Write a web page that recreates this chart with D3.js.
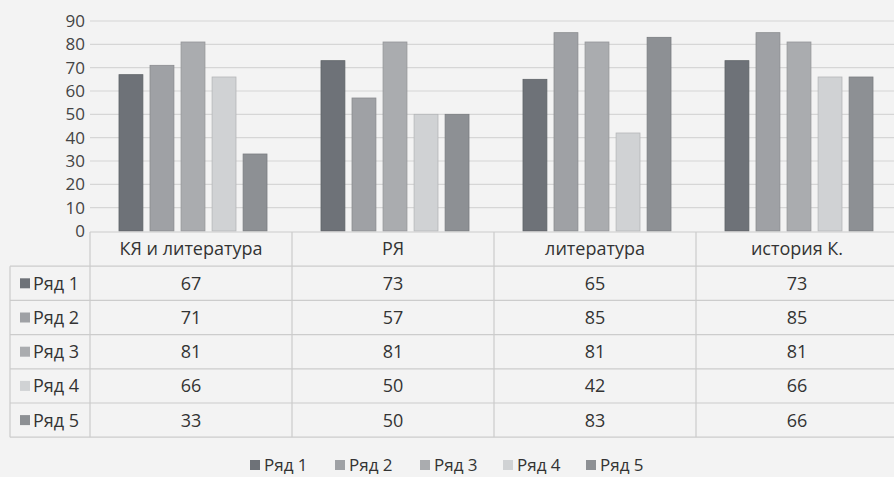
<!DOCTYPE html>
<html>
<head>
<meta charset="utf-8">
<script src="https://cdn.jsdelivr.net/npm/d3@7"></script>
<style>
  body { margin: 0; background: #f3f3f3; }
  svg { display: block; font-family: "Open Sans", "Noto Sans", sans-serif; }
</style>
</head>
<body>
<div id="chart"></div>
<script>
const categories = ["КЯ и литература", "РЯ", "литература", "история К."];
const seriesNames = ["Ряд 1", "Ряд 2", "Ряд 3", "Ряд 4", "Ряд 5"];
const ryad1 = [67, 73, 65, 73];
const ryad2 = [71, 57, 85, 85];
const ryad3 = [81, 81, 81, 81];
const ryad4 = [66, 50, 42, 66];
const ryad5 = [33, 50, 83, 66];
const yTicks = [0, 10, 20, 30, 40, 50, 60, 70, 80, 90];

const seriesValues = [ryad1, ryad2, ryad3, ryad4, ryad5];
const colors = ["#6e7278", "#9fa1a5", "#aaacaf", "#d0d2d4", "#8d9094"];

const W = 894, H = 477;
const plotLeft = 90, plotRight = 898, plotTop = 21, plotBottom = 231;
const rowH = 34.2;
const tableLeft = 10;

const svg = d3.select("#chart").append("svg")
  .attr("width", W).attr("height", H);

svg.append("rect").attr("width", W).attr("height", H).attr("fill", "#f3f3f3");

const x = d3.scaleBand().domain(categories).range([plotLeft, plotRight]);
const xs = d3.scaleBand().domain(seriesNames).range([0, x.bandwidth()])
  .paddingInner(0.23).paddingOuter(0.87);
const y = d3.scaleLinear().domain([0, 90]).range([plotBottom, plotTop]);

// линии сетки
svg.append("g")
  .selectAll("line")
  .data(yTicks.filter(d => d > 0))
  .join("line")
  .attr("x1", plotLeft).attr("x2", W)
  .attr("y1", d => y(d)).attr("y2", d => y(d))
  .attr("stroke", "#d6d6d6").attr("stroke-width", 1.2);

// подписи оси Y
const yAxis = d3.axisLeft(y).tickValues(yTicks).tickSize(0).tickPadding(0);
const gy = svg.append("g").attr("transform", `translate(${plotLeft - 5},0)`).call(yAxis);
gy.select(".domain").remove();
gy.selectAll("text")
  .attr("font-size", 17).attr("fill", "#444").attr("font-family", "Open Sans, sans-serif");

// столбцы
const groups = svg.append("g").selectAll("g")
  .data(categories)
  .join("g")
  .attr("transform", d => `translate(${x(d) + 2},0)`);

groups.selectAll("rect")
  .data((c, ci) => seriesNames.map((s, si) => ({ s, si, v: seriesValues[si][ci] })))
  .join("rect")
  .attr("x", d => xs(d.s))
  .attr("width", xs.bandwidth())
  .attr("y", d => y(d.v))
  .attr("height", d => y(0) - y(d.v))
  .attr("fill", d => colors[d.si])
  .attr("stroke", d => d3.color(colors[d.si]).darker(0.4))
  .attr("stroke-width", 0.8);

// таблица
const table = svg.append("g").attr("stroke", "#cccccc").attr("stroke-width", 1.2);
const tableTop = plotBottom + 1;
const tableBottom = tableTop + rowH * 6;

for (let r = 0; r <= 6; r++) {
  const yy = tableTop + r * rowH;
  table.append("line")
    .attr("x1", r === 0 ? plotLeft : tableLeft).attr("x2", W)
    .attr("y1", yy).attr("y2", yy);
}
table.append("line").attr("x1", tableLeft).attr("x2", tableLeft)
  .attr("y1", tableTop + rowH).attr("y2", tableBottom);
categories.forEach(c => {
  table.append("line").attr("x1", x(c)).attr("x2", x(c))
    .attr("y1", tableTop).attr("y2", tableBottom);
});

const fs = 18;

svg.append("g").selectAll("text")
  .data(categories)
  .join("text")
  .attr("x", d => x(d) + x.bandwidth() / 2)
  .attr("y", tableTop + rowH / 2 + 6)
  .attr("text-anchor", "middle")
  .attr("font-size", fs).attr("fill", "#333")
  .text(d => d);

const rows = svg.append("g").selectAll("g")
  .data(seriesNames)
  .join("g")
  .attr("transform", (d, i) => `translate(0,${tableTop + (i + 1) * rowH})`);

rows.append("rect")
  .attr("x", 20).attr("y", rowH / 2 - 5).attr("width", 10).attr("height", 10)
  .attr("fill", (d, i) => colors[i]);
rows.append("text")
  .attr("x", 33).attr("y", rowH / 2 + 6.5)
  .attr("font-size", fs).attr("fill", "#333")
  .text(d => d);

rows.selectAll("text.val")
  .data((s, si) => categories.map((c, ci) => ({ c, v: seriesValues[si][ci] })))
  .join("text")
  .attr("class", "val")
  .attr("x", d => x(d.c) + x.bandwidth() / 2)
  .attr("y", rowH / 2 + 6.5)
  .attr("text-anchor", "middle")
  .attr("font-size", fs).attr("fill", "#333")
  .text(d => d.v);

// легенда
const legendX = [250, 335, 420, 503, 586];
const legend = svg.append("g").selectAll("g")
  .data(seriesNames)
  .join("g")
  .attr("transform", (d, i) => `translate(${legendX[i]},465)`);
legend.append("rect")
  .attr("x", 0).attr("y", -5).attr("width", 10).attr("height", 10)
  .attr("fill", (d, i) => colors[i]);
legend.append("text")
  .attr("x", 14).attr("y", 6)
  .attr("font-size", 17).attr("fill", "#333")
  .text(d => d);
</script>
</body>
</html>
